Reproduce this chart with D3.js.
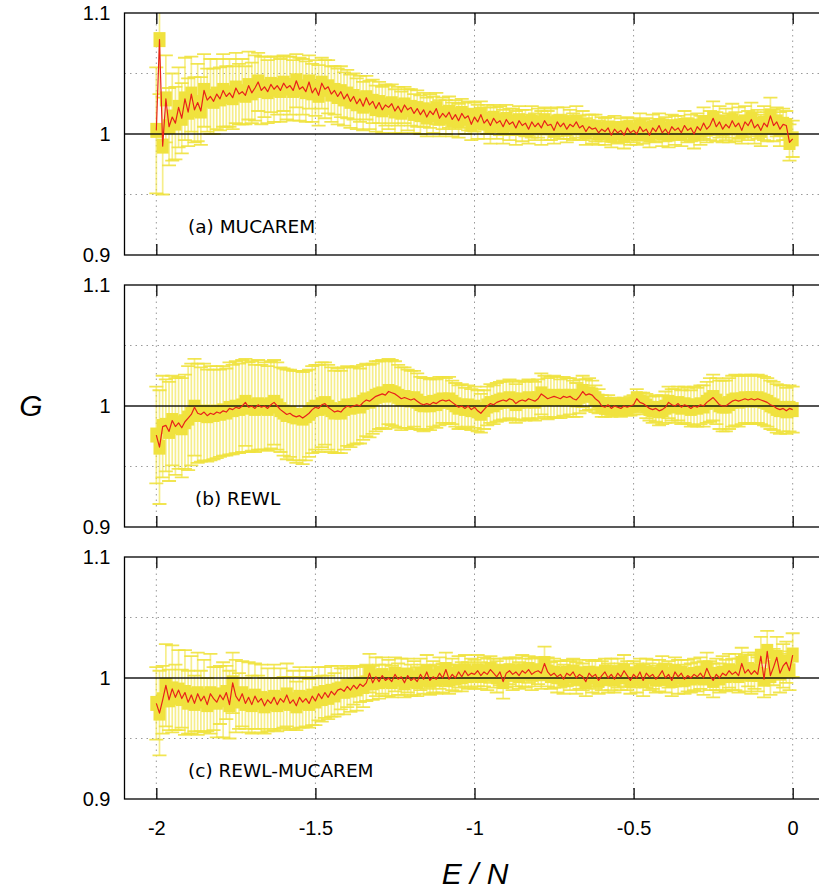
<!DOCTYPE html>
<html><head><meta charset="utf-8">
<script src="https://cdn.jsdelivr.net/npm/d3@7"></script>
<style>body{margin:0;background:#fff} svg{display:block}</style>
</head><body><svg id="c" width="819" height="890"></svg>
<script>
// energy grid E/N from -2 to 0, step 0.01 (201 bins)
const energyStart = -2, energyStep = 0.01, energyCount = 201;
const energy = d3.range(energyCount).map(i => +(energyStart + i * energyStep).toFixed(2));

const gMucarem = [
1.003,1.078,0.990,1.029,1.006,1.014,1.009,1.022,1.013,1.029,
1.018,1.033,1.020,1.026,1.019,1.036,1.028,1.031,1.027,1.033,
1.029,1.036,1.031,1.034,1.030,1.038,1.033,1.035,1.032,1.040,
1.034,1.038,1.043,1.036,1.039,1.035,1.041,1.037,1.040,1.036,
1.042,1.038,1.040,1.036,1.044,1.037,1.039,1.035,1.043,1.034,
1.038,1.032,1.042,1.037,1.039,1.033,1.036,1.031,1.035,1.029,
1.033,1.027,1.031,1.025,1.029,1.023,1.030,1.024,1.027,1.021,
1.026,1.020,1.024,1.022,1.025,1.019,1.023,1.018,1.024,1.020,
1.022,1.017,1.021,1.016,1.020,1.014,1.019,1.016,1.021,1.013,
1.017,1.014,1.018,1.012,1.016,1.011,1.017,1.013,1.015,1.008,
1.014,1.010,1.016,1.009,1.012,1.007,1.013,1.009,1.011,1.006,
1.012,1.008,1.010,1.005,1.011,1.007,1.009,1.004,1.010,1.006,
1.009,1.005,1.011,1.007,1.008,1.003,1.010,1.006,1.009,1.004,
1.008,1.006,1.010,1.005,1.007,1.002,1.006,1.004,1.005,1.001,
1.004,1.002,1.005,0.999,1.004,1.001,1.003,0.999,1.005,1.001,
1.003,1.000,1.006,1.002,1.004,0.999,1.005,1.002,1.007,1.001,
1.004,1.000,1.006,1.003,1.005,1.001,1.007,1.003,1.005,1.000,
1.006,1.003,1.009,1.004,1.007,1.013,1.006,1.010,1.004,1.008,
1.005,1.011,1.006,1.009,1.003,1.010,1.007,1.012,1.005,1.008,
1.003,1.009,1.006,1.015,1.007,1.010,1.004,1.008,1.007,0.993,
0.996];
const errMucarem = [
0.052,0.045,0.040,0.036,0.032,0.036,0.030,0.033,0.029,0.034,
0.028,0.031,0.027,0.032,0.028,0.030,0.026,0.031,0.027,0.029,
0.026,0.030,0.025,0.028,0.026,0.029,0.025,0.027,0.024,0.028,
0.025,0.027,0.024,0.028,0.025,0.026,0.023,0.027,0.024,0.026,
0.023,0.026,0.024,0.025,0.022,0.026,0.023,0.025,0.022,0.024,
0.023,0.025,0.021,0.024,0.022,0.023,0.020,0.023,0.021,0.022,
0.020,0.022,0.019,0.021,0.019,0.020,0.018,0.020,0.018,0.019,
0.017,0.019,0.017,0.018,0.016,0.018,0.016,0.017,0.015,0.017,
0.015,0.016,0.015,0.016,0.014,0.016,0.014,0.015,0.013,0.015,
0.013,0.014,0.013,0.014,0.012,0.014,0.012,0.013,0.012,0.013,
0.012,0.014,0.011,0.013,0.012,0.015,0.011,0.013,0.012,0.014,
0.012,0.013,0.011,0.014,0.012,0.013,0.011,0.012,0.013,0.011,
0.012,0.014,0.011,0.012,0.013,0.011,0.012,0.010,0.013,0.011,
0.012,0.011,0.013,0.010,0.012,0.011,0.010,0.012,0.011,0.010,
0.010,0.011,0.009,0.010,0.011,0.009,0.010,0.011,0.009,0.010,
0.010,0.009,0.011,0.010,0.009,0.010,0.011,0.009,0.010,0.011,
0.010,0.011,0.010,0.012,0.010,0.011,0.012,0.010,0.011,0.012,
0.011,0.012,0.013,0.011,0.012,0.014,0.012,0.013,0.011,0.013,
0.012,0.014,0.012,0.013,0.011,0.013,0.012,0.014,0.013,0.012,
0.013,0.014,0.012,0.015,0.013,0.012,0.014,0.013,0.012,0.015,
0.015];

const gRewl = [
0.976,0.966,0.983,0.984,0.979,0.988,0.983,0.986,0.982,0.987,
0.990,0.993,0.999,0.994,0.993,0.995,0.992,0.994,0.993,0.995,
0.994,0.996,0.995,0.998,0.997,0.999,0.998,1.000,1.003,0.999,
1.000,0.998,1.001,0.999,1.000,0.998,1.001,1.003,1.000,0.997,
0.995,0.993,0.994,0.992,0.991,0.992,0.990,0.992,0.994,0.997,
0.999,0.998,1.001,1.002,0.999,0.997,0.995,0.996,0.995,0.998,
1.000,0.999,1.000,1.001,1.000,1.003,1.005,1.004,1.006,1.008,
1.009,1.010,1.009,1.012,1.011,1.010,1.008,1.006,1.007,1.006,
1.005,1.006,1.004,1.002,1.001,1.002,1.001,1.003,1.002,1.004,
1.005,1.004,1.005,1.003,1.001,0.999,1.000,0.998,1.000,0.997,
0.999,0.996,0.994,0.997,1.000,1.002,1.001,1.003,1.004,1.005,
1.004,1.006,1.005,1.002,1.004,1.005,1.004,1.006,1.005,1.004,
1.006,1.010,1.008,1.006,1.007,1.008,1.007,1.006,1.008,1.007,
1.008,1.006,1.005,1.008,1.012,1.009,1.010,1.009,1.006,1.004,
1.000,0.999,1.001,0.998,1.000,0.999,0.998,1.000,0.999,1.000,
1.001,1.006,1.003,1.002,1.000,0.998,0.997,0.998,0.996,0.997,
0.999,1.003,1.001,1.000,1.002,0.999,1.001,1.000,0.998,1.000,
0.999,1.001,1.000,1.003,1.005,1.007,1.004,1.001,1.000,1.000,
1.002,1.004,1.005,1.004,1.005,1.006,1.005,1.006,1.005,1.006,
1.005,1.004,1.003,1.001,1.000,0.998,0.997,0.998,0.996,0.998,
0.997];
const errRewl = [
0.040,0.047,0.042,0.038,0.041,0.037,0.040,0.038,0.041,0.039,
0.043,0.042,0.040,0.041,0.039,0.040,0.038,0.039,0.037,0.038,
0.036,0.037,0.036,0.038,0.037,0.038,0.037,0.038,0.036,0.037,
0.037,0.036,0.037,0.035,0.036,0.035,0.036,0.035,0.036,0.035,
0.036,0.037,0.036,0.037,0.038,0.037,0.038,0.037,0.036,0.036,
0.035,0.036,0.035,0.034,0.035,0.035,0.034,0.035,0.034,0.034,
0.033,0.033,0.032,0.032,0.031,0.031,0.030,0.030,0.029,0.029,
0.028,0.028,0.028,0.027,0.027,0.027,0.026,0.026,0.025,0.024,
0.024,0.023,0.023,0.022,0.022,0.021,0.021,0.020,0.020,0.020,
0.019,0.019,0.019,0.018,0.018,0.018,0.018,0.017,0.017,0.017,
0.017,0.017,0.016,0.016,0.016,0.016,0.016,0.016,0.016,0.016,
0.016,0.016,0.016,0.016,0.016,0.016,0.016,0.016,0.016,0.016,
0.016,0.017,0.017,0.017,0.017,0.017,0.017,0.016,0.016,0.016,
0.015,0.015,0.014,0.014,0.013,0.013,0.013,0.012,0.011,0.010,
0.009,0.008,0.008,0.007,0.007,0.007,0.007,0.007,0.007,0.008,
0.008,0.008,0.008,0.009,0.010,0.010,0.011,0.011,0.012,0.012,
0.013,0.013,0.013,0.014,0.014,0.014,0.015,0.015,0.015,0.016,
0.016,0.016,0.017,0.017,0.018,0.019,0.019,0.020,0.021,0.021,
0.021,0.021,0.021,0.021,0.020,0.020,0.020,0.020,0.020,0.020,
0.020,0.020,0.020,0.020,0.020,0.020,0.020,0.019,0.019,0.019,
0.019];

const gRewlMucarem = [
0.979,0.971,0.982,0.994,0.982,0.991,0.984,0.990,0.983,0.988,
0.980,0.986,0.979,0.987,0.981,0.985,0.978,0.987,0.983,0.980,
0.986,0.982,0.988,0.978,0.996,0.985,0.981,0.987,0.979,0.984,
0.978,0.985,0.980,0.983,0.977,0.982,0.979,0.984,0.978,0.983,
0.980,0.986,0.979,0.982,0.977,0.984,0.980,0.983,0.979,0.985,
0.981,0.987,0.983,0.988,0.984,0.989,0.986,0.990,0.991,0.989,
0.993,0.990,0.994,0.991,0.995,0.993,0.996,1.004,0.996,1.001,
0.997,1.002,0.998,1.000,0.997,1.003,0.999,1.001,0.996,1.002,
0.998,1.000,0.997,1.003,0.999,1.005,0.998,1.001,0.999,1.004,
1.000,1.007,0.999,1.003,1.000,1.005,1.001,1.006,1.002,1.004,
1.003,1.006,1.002,1.005,1.003,1.007,1.004,1.001,1.005,0.997,
1.004,1.006,1.003,1.005,1.002,1.006,1.004,1.007,1.003,1.005,
1.006,1.004,1.012,1.005,1.002,1.004,1.001,1.003,0.999,1.004,
1.002,1.005,1.000,1.003,1.001,0.997,1.004,1.001,1.003,0.998,
1.002,1.005,1.000,1.003,0.999,1.004,1.001,1.006,1.002,0.998,
1.003,1.000,1.005,0.998,1.004,1.001,1.003,0.999,1.002,1.006,
1.000,1.003,0.998,1.005,1.001,1.004,0.999,1.002,1.000,1.003,
1.001,1.004,1.000,1.008,1.002,0.998,1.003,1.000,1.004,1.002,
1.006,1.003,1.005,1.002,1.012,1.004,1.007,1.003,1.006,1.003,
1.018,0.999,1.022,1.002,1.009,1.017,1.004,1.010,1.013,1.006,
1.019];
const errRewlMucarem = [
0.030,0.035,0.028,0.034,0.025,0.036,0.027,0.033,0.024,0.035,
0.026,0.032,0.023,0.034,0.025,0.030,0.022,0.033,0.026,0.029,
0.024,0.031,0.022,0.028,0.025,0.030,0.023,0.027,0.021,0.029,
0.024,0.027,0.022,0.028,0.023,0.026,0.021,0.027,0.022,0.025,
0.021,0.026,0.022,0.024,0.020,0.025,0.021,0.023,0.020,0.024,
0.020,0.022,0.019,0.021,0.018,0.021,0.018,0.020,0.017,0.019,
0.017,0.018,0.016,0.018,0.015,0.017,0.015,0.016,0.014,0.016,
0.014,0.015,0.013,0.015,0.013,0.014,0.013,0.015,0.012,0.014,
0.013,0.014,0.012,0.013,0.012,0.014,0.012,0.013,0.012,0.013,
0.012,0.014,0.012,0.013,0.011,0.013,0.012,0.013,0.011,0.012,
0.012,0.013,0.011,0.012,0.013,0.011,0.012,0.013,0.011,0.014,
0.012,0.011,0.013,0.012,0.011,0.013,0.012,0.011,0.013,0.012,
0.011,0.013,0.014,0.012,0.011,0.012,0.013,0.011,0.012,0.011,
0.012,0.011,0.013,0.012,0.011,0.012,0.011,0.013,0.012,0.011,
0.012,0.011,0.012,0.013,0.011,0.012,0.011,0.013,0.012,0.011,
0.011,0.012,0.011,0.013,0.012,0.011,0.012,0.011,0.013,0.012,
0.012,0.011,0.013,0.012,0.014,0.011,0.012,0.013,0.012,0.013,
0.012,0.013,0.014,0.013,0.012,0.014,0.013,0.012,0.014,0.013,
0.014,0.013,0.015,0.014,0.013,0.015,0.014,0.016,0.015,0.014,
0.016,0.015,0.017,0.016,0.015,0.017,0.016,0.018,0.017,0.016,
0.018];

const panelLabels = ["(a) MUCAREM", "(b) REWL", "(c) REWL-MUCAREM"];
const panelValues = [gMucarem, gRewl, gRewlMucarem];
const panelErrors = [errMucarem, errRewl, errRewlMucarem];
const xTicks = [-2, -1.5, -1, -0.5, 0];
const yTicks = [0.9, 1, 1.1];
const yGrid = [0.95, 1.05];
const xDomain = [-2.1, 0.1];
const yDomain = [0.9, 1.1];

const svg = d3.select("#c");
const left = 124.5, right = 824.5;
const tops = [13, 285, 557], ph = 242;
const labelX = [188, 195, 188];
const yellow = "#f0e23e";
const tickFont = "Liberation Sans, Arial, sans-serif";

const x = d3.scaleLinear().domain(xDomain).range([left, right]);

panelValues.forEach((vals, k) => {
  const errs = panelErrors[k];
  const top = tops[k], bottom = top + ph;
  const y = d3.scaleLinear().domain(yDomain).range([bottom, top]);
  const data = energy.map((e, i) => ({e, v: vals[i], s: errs[i]}));
  const g = svg.append("g");
  const clipId = "clip" + k;
  svg.append("clipPath").attr("id", clipId).append("rect")
    .attr("x", left).attr("y", top).attr("width", right - left).attr("height", ph);

  // grid
  const grid = g.append("g").attr("stroke", "#9a9a9a").attr("stroke-width", 1)
    .attr("stroke-dasharray", "1.5,4");
  grid.selectAll("line.h").data(yGrid).join("line").attr("class", "h")
    .attr("x1", left).attr("x2", right).attr("y1", d => y(d)).attr("y2", d => y(d));
  grid.selectAll("line.v").data(xTicks).join("line").attr("class", "v")
    .attr("x1", d => x(d)).attr("x2", d => x(d)).attr("y1", top).attr("y2", bottom);

  const plot = g.append("g").attr("clip-path", `url(#${clipId})`);
  // error bars
  plot.append("g").attr("stroke", yellow).attr("stroke-opacity", 0.6).attr("stroke-width", 1.7)
    .selectAll("line").data(data).join("line")
    .attr("x1", d => x(d.e)).attr("x2", d => x(d.e))
    .attr("y1", d => y(d.v - d.s)).attr("y2", d => y(d.v + d.s));
  const caps = plot.append("g").attr("stroke", yellow).attr("stroke-opacity", 0.9).attr("stroke-width", 1.8);
  caps.selectAll("line.t").data(data).join("line").attr("class", "t")
    .attr("x1", d => x(d.e) - 7).attr("x2", d => x(d.e) + 7)
    .attr("y1", d => y(d.v + d.s)).attr("y2", d => y(d.v + d.s));
  caps.selectAll("line.b").data(data).join("line").attr("class", "b")
    .attr("x1", d => x(d.e) - 7).attr("x2", d => x(d.e) + 7)
    .attr("y1", d => y(d.v - d.s)).attr("y2", d => y(d.v - d.s));
  // square points
  plot.append("g").attr("fill", yellow)
    .selectAll("rect").data(data).join("rect")
    .attr("x", d => x(d.e) - 6).attr("y", d => y(d.v) - 7.5)
    .attr("width", 12).attr("height", 15);
  // reference line G = 1
  plot.append("line").attr("x1", left).attr("x2", right)
    .attr("y1", y(1)).attr("y2", y(1)).attr("stroke", "#000").attr("stroke-width", 1.6)
    .attr("stroke-opacity", 0.9);
  // red line
  plot.append("path").datum(data)
    .attr("fill", "none").attr("stroke", "#e8211a").attr("stroke-width", 1.2)
    .attr("stroke-linejoin", "round")
    .attr("d", d3.line().x(d => x(d.e)).y(d => y(d.v)));

  // frame
  g.append("rect").attr("x", left).attr("y", top).attr("width", right - left).attr("height", ph)
    .attr("fill", "none").attr("stroke", "#000").attr("stroke-width", 1.3);

  // x ticks (inward), top & bottom
  const axTop = g.append("g").attr("transform", `translate(0,${top})`)
    .call(d3.axisTop(x).tickValues(xTicks).tickSizeInner(-11).tickSizeOuter(0).tickFormat(""));
  const isLast = k === panelValues.length - 1;
  const axBot = g.append("g").attr("transform", `translate(0,${bottom})`)
    .call(d3.axisBottom(x).tickValues(xTicks).tickSizeInner(-11).tickSizeOuter(0)
      .tickPadding(22).tickFormat(isLast ? (d => String(d)) : ""));
  [axTop, axBot].forEach(a => {
    a.select(".domain").remove();
    a.selectAll(".tick line").attr("stroke", "#000").attr("stroke-width", 1.3);
    a.selectAll("text").attr("font-family", tickFont).attr("font-size", 20).attr("fill", "#000");
  });

  // y tick labels
  const axL = g.append("g").attr("transform", `translate(${left},0)`)
    .call(d3.axisLeft(y).tickValues(yTicks).tickSize(0).tickPadding(14).tickFormat(d => String(d)));
  axL.select(".domain").remove();
  axL.selectAll("text").attr("font-family", tickFont).attr("font-size", 20).attr("fill", "#000");

  // panel label
  g.append("text").attr("x", labelX[k]).attr("y", bottom - 22)
    .attr("font-family", "DejaVu Sans, Verdana, sans-serif").attr("font-size", 18.5)
    .attr("fill", "#000").text(panelLabels[k]);
});

// axis titles
svg.append("text").attr("x", 475).attr("y", 884).attr("text-anchor", "middle")
  .attr("font-family", tickFont).attr("font-style", "italic").attr("font-size", 30)
  .text("E / N");
svg.append("text").attr("x", 31).attr("y", 416).attr("text-anchor", "middle")
  .attr("font-family", tickFont).attr("font-style", "italic").attr("font-size", 30)
  .text("G");
</script>
</body></html>
